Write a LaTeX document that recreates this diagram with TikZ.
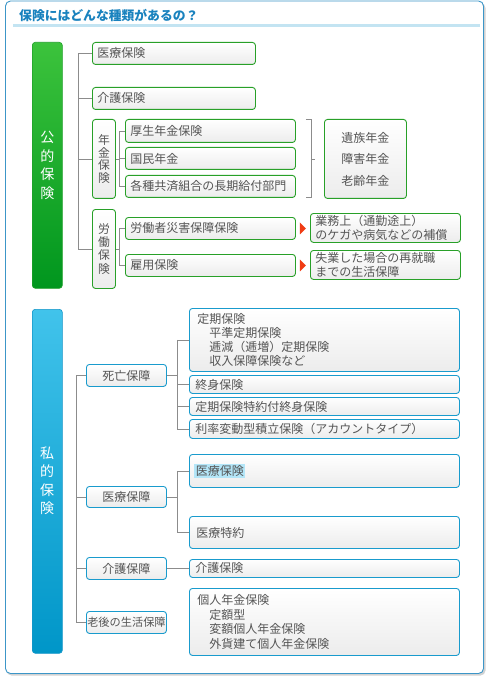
\documentclass[tikz,border=0pt]{standalone}
\usepackage{fontspec}
\setmainfont{Noto Sans CJK JP}
\usetikzlibrary{calc}
\definecolor{txt}{RGB}{85,85,85}
\definecolor{gborder}{RGB}{40,160,40}
\definecolor{bborder}{RGB}{25,155,205}
\definecolor{conn}{RGB}{140,140,140}
\definecolor{ttl}{RGB}{25,130,190}
\definecolor{ttlbar}{RGB}{195,228,242}
\definecolor{frm}{RGB}{60,150,200}
\definecolor{redtri}{RGB}{240,60,20}
\definecolor{hl}{RGB}{180,230,248}
\definecolor{boxbot}{RGB}{236,236,236}
\definecolor{gtop}{RGB}{60,195,60}
\definecolor{gbot}{RGB}{0,150,30}
\definecolor{gbar}{RGB}{30,160,40}
\definecolor{btop}{RGB}{65,195,235}
\definecolor{bbot}{RGB}{0,150,200}
\definecolor{bbar}{RGB}{20,150,200}
\begin{document}
\begin{tikzpicture}[x=1pt,y=-1pt,
  every node/.style={text=txt},
  base/.style={draw, line width=0.9pt, rounded corners=3pt, top color=white, bottom color=boxbot,
    anchor=north west, inner ysep=0pt, font=\fontsize{12}{14}\selectfont},
  gbox/.style={base, draw=gborder},
  bbox/.style={base, draw=bborder},
  vtext/.style={align=center, inner xsep=0pt, font=\fontsize{11.8}{12.4}\selectfont},
  leftt/.style={align=left, inner xsep=6pt},
  bar/.style={anchor=north west, rounded corners=3pt, inner sep=0pt, align=center,
    text=white, font=\fontsize{14}{18.5}\selectfont},
  connector/.style={draw=conn, line width=0.8pt}]
\useasboundingbox (0,0) rectangle (490,676);
% frame
\fill[gray!35, rounded corners=5pt] (6.5,3) rectangle (485.5,675.5);
\draw[frm, fill=white, line width=0.9pt, rounded corners=5pt] (5.5,1) rectangle (483.5,673.5);
\node[anchor=west, text=ttl, font=\bfseries\fontsize{12.8}{14}\selectfont, inner sep=0pt] (title) at (19,16) {保険にはどんな種類があるの？};
\fill[ttlbar] (13,24) rectangle (480,27);

% ---------- public ----------
\node[bar, top color=gtop, bottom color=gbot, draw=gbar, line width=0.6pt,
  minimum width=30pt, minimum height=246pt] (pubbar) at (32,42) {公\\的\\保\\険};

\node[gbox, leftt, inner xsep=5pt, text width=153pt, minimum height=22pt] (iryo) at (92,42) {医療保険};
\node[gbox, leftt, inner xsep=5pt, text width=153pt, minimum height=22pt] (kaigo) at (92,87) {介護保険};
\node[gbox, vtext, text width=23pt, minimum height=79pt] (nenkin) at (92,119) {年\\金\\保\\険};
\node[gbox, leftt, inner xsep=5pt, text width=160pt, minimum height=23pt] (kosei) at (125,119) {厚生年金保険};
\node[gbox, leftt, inner xsep=5pt, text width=160pt, minimum height=22pt] (kokumin) at (125,147) {国民年金};
\node[gbox, leftt, inner xsep=5pt, text width=160pt, minimum height=22pt] (kyosai) at (125,175) {各種共済組合の長期給付部門};
\node[gbox, align=center, text width=82pt, inner xsep=0pt, minimum height=79pt,
  font=\fontsize{12}{21.5}\selectfont] (benefit) at (324,119) {遺族年金\\障害年金\\老齢年金};
\node[gbox, vtext, text width=23pt, minimum height=79pt, font=\fontsize{11.8}{13.2}\selectfont] (rodo) at (92,209) {労\\働\\保\\険};
\node[gbox, leftt, inner xsep=5pt, text width=160pt, minimum height=22pt] (rosai) at (125,217) {労働者災害保障保険};
\node[gbox, leftt, inner xsep=5pt, text width=160pt, minimum height=22pt] (koyo) at (125,254) {雇用保険};
\node[gbox, leftt, inner xsep=5pt, text width=140pt, minimum height=29pt,
  font=\fontsize{12}{13.5}\selectfont] (gyomu) at (310,213) {業務上（通勤途上）\\のケガや病気などの補償};
\node[gbox, leftt, inner xsep=5pt, text width=140pt, minimum height=29pt,
  font=\fontsize{12}{13.5}\selectfont] (shitsu) at (310,250) {失業した場合の再就職\\までの生活保障};

% public connectors
\coordinate (ptr) at (78,0);
\coordinate (psub) at (119,0);
\draw[connector] (ptr |- iryo.west) -- (ptr |- rodo.west);
\foreach \n in {iryo,kaigo,nenkin,rodo} \draw[connector] (ptr |- \n.west) -- (\n.west);
\draw[connector] (psub |- kosei.west) -- (psub |- kyosai.west);
\draw[connector] (nenkin.east) -- (psub |- nenkin.east);
\foreach \n in {kosei,kokumin,kyosai} \draw[connector] (psub |- \n.west) -- (\n.west);
\draw[connector] (psub |- rosai.west) -- (psub |- koyo.west);
\draw[connector] (rodo.east) -- (psub |- rodo.east);
\foreach \n in {rosai,koyo} \draw[connector] (psub |- \n.west) -- (\n.west);
% bracket
\draw[connector] ($(kosei.north east)+(10,0)$) -- ++(5,0) coordinate (bt) -- (bt |- kyosai.south) -- ++(-5,0);
\draw[connector] (bt |- benefit.west) -- ++(4,0);
% red triangles
\fill[redtri] ($(rosai.east)+(4,-6)$) -- ++(6,6) -- ++(-6,6) -- cycle;
\fill[redtri] ($(koyo.east)+(4,-6)$) -- ++(6,6) -- ++(-6,6) -- cycle;

% ---------- private ----------
\node[bar, top color=btop, bottom color=bbot, draw=bbar, line width=0.6pt,
  minimum width=30pt, minimum height=344pt] (pribar) at (32,309) {};
\node[text=white, align=center, font=\fontsize{14}{18.5}\selectfont] (pritxt) at (47,481) {私\\的\\保\\険};

\node[bbox, align=center, text width=80pt, inner xsep=0pt, minimum height=22pt] (shibou) at (86,364) {死亡保障};
\node[bbox, align=center, text width=80pt, inner xsep=0pt, minimum height=21pt] (iryoh) at (86,486) {医療保障};
\node[bbox, align=center, text width=80pt, inner xsep=0pt, minimum height=22pt] (kaigoh) at (86,557) {介護保障};
\node[bbox, align=center, text width=80pt, inner xsep=0pt, minimum height=22pt,
  font=\fontsize{11.2}{14}\selectfont] (rogo) at (86,611) {老後の生活保障};

\node[bbox, leftt, inner xsep=8pt, text width=254pt, minimum height=63pt] (teiki) at (189,308)
  {定期保険\\\hspace*{1em}平準定期保険\\\hspace*{1em}逓減（逓増）定期保険\\\hspace*{1em}収入保障保険など};
\node[bbox, leftt, text width=258pt, minimum height=18pt] (shushin) at (189,375) {終身保険};
\node[bbox, leftt, text width=258pt, minimum height=18pt] (tokuyaku) at (189,397) {定期保険特約付終身保険};
\node[bbox, leftt, text width=258pt, minimum height=19pt] (riritsu) at (189,419) {利率変動型積立保険（アカウントタイプ）};
\node[bbox, leftt, inner xsep=5pt, text width=260pt, minimum height=33pt] (piryo) at (189,454)
  {{\setlength{\fboxsep}{1.5pt}\colorbox{hl}{医療保険}}};
\node[bbox, leftt, inner xsep=7pt, text width=256pt, minimum height=32pt] (tiryo) at (189,516) {医療特約};
\node[bbox, leftt, inner xsep=6pt, text width=258pt, minimum height=18pt] (pkaigo) at (189,559) {介護保険};
\node[bbox, leftt, inner xsep=8pt, text width=254pt, minimum height=67pt,
  font=\fontsize{12}{14.5}\selectfont] (kojin) at (189,588)
  {個人年金保険\\\hspace*{1em}定額型\\\hspace*{1em}変額個人年金保険\\\hspace*{1em}外貨建て個人年金保険};

% private connectors
\coordinate (qtr) at (76,0);
\coordinate (qsub) at (177,0);
\draw[connector] (qtr |- shibou.west) -- (qtr |- rogo.west);
\foreach \n in {shibou,iryoh,kaigoh,rogo} \draw[connector] (qtr |- \n.west) -- (\n.west);
\draw[connector] (shibou.east) -- (qsub |- shibou.east);
\draw[connector] (qsub |- teiki.west) -- (qsub |- riritsu.west);
\foreach \n in {teiki,shushin,tokuyaku,riritsu} \draw[connector] (qsub |- \n.west) -- (\n.west);
\draw[connector] (iryoh.east) -- (qsub |- iryoh.east);
\draw[connector] (qsub |- piryo.west) -- (qsub |- tiryo.west);
\foreach \n in {piryo,tiryo} \draw[connector] (qsub |- \n.west) -- (\n.west);
\draw[connector] (kaigoh.east) -- (pkaigo.west);
\end{tikzpicture}
\end{document}
